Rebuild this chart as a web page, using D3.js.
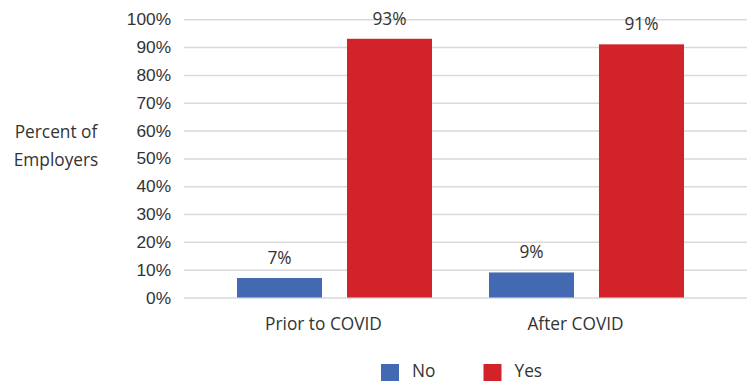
<!DOCTYPE html>
<html>
<head>
<meta charset="utf-8">
<script src="https://cdn.jsdelivr.net/npm/d3@7"></script>
<style>
  html, body { margin: 0; padding: 0; background: #fff; }
  svg { display: block; font-family: "Open Sans", "Noto Sans", sans-serif; }
</style>
</head>
<body>
<svg id="chart" width="753" height="381"></svg>
<script>
// Employer survey: share answering No / Yes, before and after COVID
const categories = ["Prior to COVID", "After COVID"];
const seriesNames = ["No", "Yes"];
const noValues = [7, 9];
const yesValues = [93, 91];
const tickValues = [0, 10, 20, 30, 40, 50, 60, 70, 80, 90, 100];
const axisTitle = ["Percent of", "Employers"];

const colors = { No: "#4269B2", Yes: "#D2232A" };
const textColor = "#333333";
const gridColor = "#D9D9D9";
const fontSize = "17.3px";

const svg = d3.select("#chart");

const plot = { left: 184, right: 747, top: 19.3, bottom: 297.5 };

const y = d3.scaleLinear().domain([0, 100]).range([plot.bottom, plot.top]);

const x0 = d3.scaleBand().domain(categories).range([208.5, 712.5]).padding(0);
const x1 = d3.scaleBand().domain(seriesNames).range([28.5, 223.5]).paddingInner(0.227).paddingOuter(0);

const rows = categories.map((c, i) => ({
  category: c,
  values: [
    { key: "No", value: noValues[i] },
    { key: "Yes", value: yesValues[i] }
  ]
}));

// y axis labels and horizontal gridlines
const yAxis = d3.axisLeft(y)
  .tickValues(tickValues)
  .tickFormat(d => d + "%")
  .tickSize(0)
  .tickPadding(13);

const yG = svg.append("g")
  .attr("transform", `translate(${plot.left},0)`)
  .call(yAxis);
yG.select(".domain").remove();
yG.selectAll(".tick text")
  .attr("fill", textColor)
  .style("font-size", fontSize);
yG.selectAll(".tick")
  .append("line")
  .attr("x1", 0)
  .attr("x2", plot.right - plot.left)
  .attr("stroke", gridColor)
  .attr("stroke-width", 1.5);

// bars
const groups = svg.append("g")
  .selectAll("g")
  .data(rows)
  .join("g")
  .attr("transform", d => `translate(${x0(d.category)},0)`);

groups.selectAll("rect")
  .data(d => d.values)
  .join("rect")
  .attr("x", d => x1(d.key))
  .attr("width", x1.bandwidth())
  .attr("y", d => y(d.value))
  .attr("height", d => y(0) - y(d.value))
  .attr("fill", d => colors[d.key]);

// value labels above bars
groups.selectAll("text.value")
  .data(d => d.values)
  .join("text")
  .attr("class", "value")
  .attr("x", d => x1(d.key) + x1.bandwidth() / 2)
  .attr("y", d => y(d.value) - 14)
  .attr("text-anchor", "middle")
  .attr("fill", textColor)
  .style("font-size", fontSize)
  .text(d => d.value + "%");

// category labels
svg.append("g")
  .selectAll("text")
  .data(categories)
  .join("text")
  .attr("x", d => x0(d) + x0.bandwidth() / 2 - 11)
  .attr("y", 330)
  .attr("text-anchor", "middle")
  .attr("fill", textColor)
  .style("font-size", fontSize)
  .text(d => d);

// axis title
svg.append("text")
  .attr("text-anchor", "middle")
  .attr("fill", textColor)
  .style("font-size", fontSize)
  .selectAll("tspan")
  .data(axisTitle)
  .join("tspan")
  .attr("x", 56)
  .attr("y", (d, i) => 137.5 + i * 28.5)
  .text(d => d);

// legend
const legendItems = [
  { key: "No", x: 381 },
  { key: "Yes", x: 483.5 }
];
const legend = svg.append("g")
  .selectAll("g")
  .data(legendItems)
  .join("g")
  .attr("transform", d => `translate(${d.x},364)`);
legend.append("rect")
  .attr("width", 18)
  .attr("height", 17)
  .attr("fill", d => colors[d.key]);
legend.append("text")
  .attr("x", 31)
  .attr("y", 12.5)
  .attr("fill", textColor)
  .style("font-size", fontSize)
  .text(d => d.key);
</script>
</body>
</html>
